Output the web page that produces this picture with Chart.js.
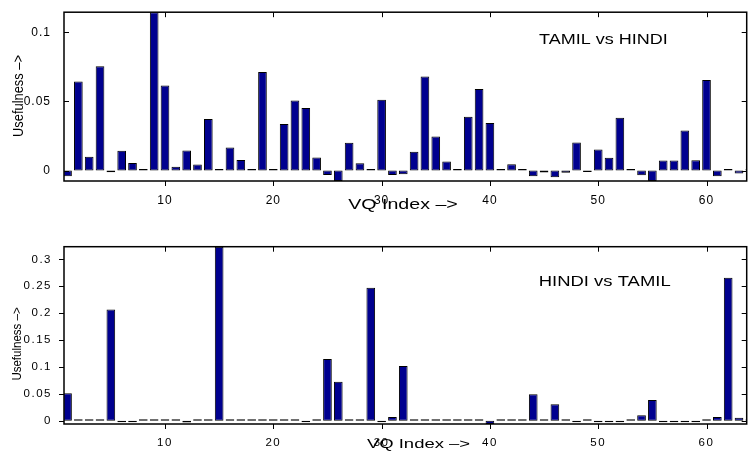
<!DOCTYPE html>
<html>
<head>
<meta charset="utf-8">
<script src="https://cdn.jsdelivr.net/npm/chart.js@4.4.1/dist/chart.umd.min.js"></script>
<style>
  html, body { margin: 0; padding: 0; background: #fff; }
  #wrap { position: relative; width: 748px; height: 455px; overflow: hidden; }
  .pane { position: absolute; left: 0; width: 748px; }
</style>
</head>
<body>
<div id="wrap">
  <div class="pane" style="top:0;height:230px"><canvas id="chartTamilHindi"></canvas></div>
  <div class="pane" style="top:230px;height:225px"><canvas id="chartHindiTamil"></canvas></div>
</div>
<script>
/* Two MATLAB-style bar subplots: usefulness per VQ index, 64 codewords. */
const vqIndex = [1,2,3,4,5,6,7,8,9,10,11,12,13,14,15,16,17,18,19,20,21,22,23,24,25,26,27,28,29,30,31,32,
                 33,34,35,36,37,38,39,40,41,42,43,44,45,46,47,48,49,50,51,52,53,54,55,56,57,58,59,60,61,62,63,64];

const tamilVsHindi = [
  -0.0042, 0.0644, 0.0099, 0.0755, -0.0012, 0.0143, 0.0055, 0.0003,
   0.1147, 0.0616, 0.0028, 0.0145,  0.0044, 0.0374, 0.0002, 0.0166,
   0.0076, 0.0008, 0.0713, 0.0005,  0.0337, 0.0508, 0.0452, 0.0095,
  -0.0032,-0.0076, 0.0201, 0.0053,  0.0002, 0.0512,-0.0032,-0.0028,
   0.0136, 0.0681, 0.0247, 0.0065,  0.0002, 0.0390, 0.0591, 0.0344,
   0.0008, 0.0046, 0.0002,-0.0042, -0.0014,-0.0048,-0.0016, 0.0203,
  -0.0005, 0.0152, 0.0092, 0.0383,  0.0002,-0.0035,-0.0076, 0.0072,
   0.0072, 0.0289, 0.0074, 0.0656, -0.0042, 0.0003,-0.0021, 0.0002
];

const hindiVsTamil = [
   0.0508, 0.0003, 0.0002, 0.0004,  0.2070,-0.0030,-0.0030, 0.0003,
   0.0002, 0.0003, 0.0002,-0.0035,  0.0003, 0.0002, 0.3236, 0.0003,
   0.0002, 0.0003, 0.0002, 0.0003,  0.0002, 0.0003,-0.0030, 0.0003,
   0.1147, 0.0725, 0.0002, 0.0003,  0.2473,-0.0030, 0.0068, 0.1017,
   0.0003, 0.0002, 0.0003, 0.0002,  0.0003, 0.0002, 0.0003,-0.0060,
   0.0003, 0.0002, 0.0003, 0.0490,  0.0025, 0.0304, 0.0025,-0.0025,
   0.0008,-0.0010,-0.0030,-0.0010,  0.0005, 0.0099, 0.0384,-0.0030,
  -0.0030,-0.0030,-0.0030, 0.0005,  0.0068, 0.2660, 0.0056, 0.0003
];

const xTicks = [10, 20, 30, 40, 50, 60];
const yTicksTop = [0, 0.05, 0.1];
const yLabelsTop = ["0", "0.05", "0.1"];
const yTicksBottom = [0, 0.05, 0.1, 0.15, 0.2, 0.25, 0.3];
const yLabelsBottom = ["0", "0.05", "0.1", "0.15", "0.2", "0.25", "0.3"];

const X_MIN = 0.674, X_MAX = 63.71;
const BAR_FILL = "#00008f";
const TICK_LEN = 5;
const FONT = '"Liberation Sans", Arial, Helvetica, sans-serif';

Chart.defaults.font.family = FONT;
Chart.defaults.color = "#000";

// sx stretches along the text, sy across it (the figure was resampled unevenly)
function drawLabel(ctx, text, x, y, size, sx, sy, rot){
  ctx.save();
  ctx.translate(x, y);
  if (rot) ctx.rotate(rot);
  ctx.scale(sx, sy);
  ctx.font = size + "px " + FONT;
  ctx.textAlign = "center";
  ctx.textBaseline = "middle";
  ctx.fillStyle = "#000";
  ctx.fillText(text, 0, 0);
  ctx.restore();
}

// box, ticks on all four sides and the hand-placed labels, like the MATLAB figure
const matlabAxes = {
  id: "matlabAxes",
  beforeDraw(chart, args, opts){
    chart.ctx.letterSpacing = opts.tickSpacing;
  },
  afterDraw(chart, args, opts){
    const ctx = chart.ctx, a = chart.chartArea;
    const xs = chart.scales.x, ys = chart.scales.y;
    ctx.save();
    ctx.letterSpacing = "0px";
    ctx.strokeStyle = "#000";
    ctx.lineWidth = 1;
    ctx.beginPath();
    xTicks.forEach(v => {
      const p = Math.round(xs.getPixelForValue(v)) + 0.5;
      ctx.moveTo(p, a.bottom); ctx.lineTo(p, a.bottom + TICK_LEN);
      ctx.moveTo(p, a.top);    ctx.lineTo(p, a.top + TICK_LEN);
    });
    opts.yTicks.forEach(v => {
      const p = Math.round(ys.getPixelForValue(v)) + 0.5;
      ctx.moveTo(a.left, p);  ctx.lineTo(a.left + opts.leftTickDir * TICK_LEN, p);
      ctx.moveTo(a.right, p); ctx.lineTo(a.right - TICK_LEN, p);
    });
    ctx.stroke();
    ctx.lineWidth = 1.5;
    ctx.strokeRect(a.left, a.top, a.right - a.left, a.bottom - a.top);

    drawLabel(ctx, opts.yTitle, opts.yTitleX, opts.yTitleY, opts.yTitleSize, opts.yTitleStretch, 1, -Math.PI / 2);
    drawLabel(ctx, opts.xTitle, opts.xTitleX, opts.xTitleY, opts.xTitleSize, opts.xTitleStretch, 1, 0);
    drawLabel(ctx, opts.note, xs.getPixelForValue(opts.noteX), ys.getPixelForValue(opts.noteY),
              opts.noteSize, opts.noteStretch, 1, 0);
    ctx.restore();
  }
};

function makeChart(id, vals, o){
  return new Chart(document.getElementById(id), {
    type: "bar",
    data: {
      datasets: [{
        data: vqIndex.map((x, i) => ({ x: x, y: vals[i] })),
        backgroundColor: BAR_FILL,
        borderColor: "#000",
        borderWidth: 1,
        borderSkipped: false,
        minBarLength: 1.5,
        barPercentage: 0.8,
        categoryPercentage: 1,
        clip: 0
      }]
    },
    options: {
      responsive: true, maintainAspectRatio: false, animation: false,
      layout: { padding: { left: 0, right: 1.3, top: o.padTop, bottom: 0 } },
      plugins: { legend: { display: false }, tooltip: { enabled: false }, matlabAxes: o.axes },
      scales: {
        x: {
          type: "linear", min: X_MIN, max: X_MAX, offset: false,
          grid: { display: false }, border: { display: false },
          afterBuildTicks: s => { s.ticks = xTicks.map(v => ({ value: v })); },
          afterFit: s => { s.height = o.xAxisH; },
          ticks: { padding: o.xTickPad, maxRotation: 0, autoSkip: false, color: "#000",
                   font: { size: o.tickSize }, callback: v => String(v) }
        },
        y: {
          min: o.yMin, max: o.yMax,
          grid: { display: false }, border: { display: false },
          afterBuildTicks: s => { s.ticks = o.yTicks.map(v => ({ value: v })); },
          afterFit: s => { s.width = 64; },
          ticks: { padding: o.yTickPad, autoSkip: false, color: "#000",
                   font: { size: o.tickSize }, callback: (v, i) => o.yLabels[i] }
        }
      }
    },
    plugins: [matlabAxes]
  });
}

makeChart("chartTamilHindi", tamilVsHindi, {
  padTop: 4.3, xAxisH: 49, yMin: -0.0076, yMax: 0.1147,
  yTicks: yTicksTop, yLabels: yLabelsTop, tickSize: 12, xTickPad: 4, yTickPad: 5,
  axes: {
    tickSpacing: "1px", yTicks: yTicksTop, leftTickDir: 1,
    yTitle: "Usefulness \u2013>", yTitleX: 19, yTitleY: 96, yTitleSize: 14, yTitleStretch: 0.92,
    xTitle: "VQ Index \u2013>", xTitleX: 403, xTitleY: 205.5, xTitleSize: 14, xTitleStretch: 1.4,
    note: "TAMIL vs HINDI", noteX: 50.47, noteY: 0.0944, noteSize: 15, noteStretch: 1.2
  }
});

makeChart("chartHindiTamil", hindiVsTamil, {
  padTop: 16.7, xAxisH: 31, yMin: -0.0062, yMax: 0.3236,
  yTicks: yTicksBottom, yLabels: yLabelsBottom, tickSize: 11.5, xTickPad: 3.5, yTickPad: 4,
  axes: {
    tickSpacing: "1.5px", yTicks: yTicksBottom, leftTickDir: -1,
    yTitle: "Usefulness \u2013>", yTitleX: 18, yTitleY: 114, yTitleSize: 12.5, yTitleStretch: 0.92,
    xTitle: "VQ Index \u2013>", xTitleX: 418.5, xTitleY: 214, xTitleSize: 13, xTitleStretch: 1.42,
    note: "HINDI vs TAMIL", noteX: 50.6, noteY: 0.258, noteSize: 15, noteStretch: 1.23
  }
});
</script>
</body>
</html>
